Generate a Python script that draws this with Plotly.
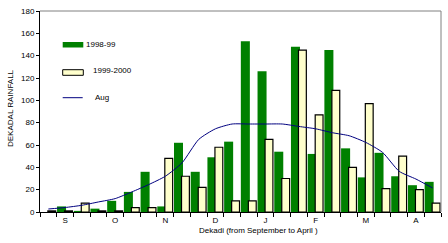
import plotly.graph_objects as go

dekads = ["S1", "S2", "S3", "O1", "O2", "O3", "N1", "N2", "N3", "D1", "D2", "D3",
          "J1", "J2", "J3", "F1", "F2", "F3", "M1", "M2", "M3", "A1", "A2", "A3"]
month_labels = ["", "S", "", "", "O", "", "", "N", "", "", "D", "",
                "", "J", "", "", "F", "", "", "M", "", "", "A", ""]
rain_9899 = [0, 5, 1, 3, 10, 18, 36, 5, 62, 36, 49, 63,
             153, 126, 54, 148, 52, 145, 57, 31, 53, 32, 24, 27]
rain_9900 = [1, 1, 8, 1, 1, 4, 4, 48, 32, 22, 58, 10,
             10, 65, 30, 145, 87, 109, 40, 97, 21, 50, 20, 8]
rain_avg = [2.7, 4, 6, 9, 12, 18, 24.5, 32, 44, 65, 74.5, 78.8,
            78.8, 78.8, 78.8, 76.6, 74.5, 71, 68.3, 62.3, 53.4, 36.4, 29.5, 21.5]
y_ticks = [0, 20, 40, 60, 80, 100, 120, 140, 160, 180]

FONT = "Liberation Sans, Arial, sans-serif"
GREEN = "#008000"
CREAM = "#FFFFCC"
NAVY = "#000080"

fig = go.Figure()
fig.add_trace(go.Bar(x=dekads, y=rain_9899, name="1998-99",
                     marker=dict(color=GREEN, line=dict(width=0)),
                     offset=-0.48, width=0.54))
fig.add_trace(go.Bar(x=dekads, y=rain_9900, name="1999-2000",
                     marker=dict(color=CREAM, line=dict(color="black", width=1.2)),
                     offset=-0.03, width=0.47))
fig.add_trace(go.Scatter(x=dekads, y=rain_avg, name="Aug", mode="lines",
                         line=dict(color=NAVY, width=1, shape="spline", smoothing=0.6)))

L, R, T, B = 40, 441, 11, 212
W, H = 448, 243

def px(x):
    return (x - L) / (R - L)

def py(y):
    return (B - y) / (B - T)

fig.update_layout(
    width=W, height=H,
    margin=dict(l=L, r=W - R, t=T, b=H - B, pad=0),
    paper_bgcolor="white", plot_bgcolor="white",
    barmode="overlay", showlegend=False,
    font=dict(family=FONT, size=8, color="black"),
    xaxis=dict(type="category", range=[-0.5, 23.5], tickmode="array",
               tickvals=dekads, ticktext=month_labels, tickson="boundaries",
               ticks="outside", ticklen=4, tickcolor="black", tickwidth=1,
               showline=True, linecolor="black", linewidth=1, showgrid=False,
               tickfont=dict(size=8), zeroline=False, automargin=False),
    yaxis=dict(range=[0, 180], tickmode="array", tickvals=y_ticks,
               ticks="outside", ticklen=3, tickcolor="black", tickwidth=1,
               showline=True, linecolor="black", linewidth=1, showgrid=False,
               zeroline=False, tickfont=dict(size=8), automargin=False),
    shapes=[
        dict(type="line", xref="paper", yref="paper", x0=0, x1=1, y0=1, y1=1,
             line=dict(color="#808080", width=1)),
        dict(type="line", xref="paper", yref="paper", x0=1, x1=1, y0=0, y1=1,
             line=dict(color="#808080", width=1)),
        dict(type="rect", xref="paper", yref="paper",
             x0=px(62.7), x1=px(83.3), y0=py(47.5), y1=py(42),
             fillcolor=GREEN, line=dict(width=0)),
        dict(type="rect", xref="paper", yref="paper",
             x0=px(62.7), x1=px(83.3), y0=py(75.3), y1=py(69.7),
             fillcolor=CREAM, line=dict(color="black", width=1)),
        dict(type="line", xref="paper", yref="paper",
             x0=px(62.7), x1=px(82.7), y0=py(97.7), y1=py(97.7),
             line=dict(color=NAVY, width=1)),
    ],
    annotations=[
        dict(text="1998-99", xref="paper", yref="paper", x=px(83.5), y=py(44.5),
             xanchor="left", yanchor="middle", showarrow=False, font=dict(size=8)),
        dict(text="1999-2000", xref="paper", yref="paper", x=px(90.5), y=py(70.5),
             xanchor="left", yanchor="middle", showarrow=False, font=dict(size=8)),
        dict(text="Aug", xref="paper", yref="paper", x=px(93), y=py(97.5),
             xanchor="left", yanchor="middle", showarrow=False, font=dict(size=8)),
        dict(text="Dekadi (from September to April )", xref="paper", yref="paper",
             x=px(258.5), y=py(230.5), xanchor="center", yanchor="middle",
             showarrow=False, font=dict(size=8)),
        dict(text="DEKADAL RAINFALL", xref="paper", yref="paper",
             x=px(10.5), y=py(108.5), xanchor="center", yanchor="middle",
             textangle=-90, showarrow=False, font=dict(size=8)),
    ],
)

fig.write_html("out.html",
               config={"displayModeBar": False, "staticPlot": True},
               post_script="document.body.style.margin='0';document.body.style.overflow='hidden';")
